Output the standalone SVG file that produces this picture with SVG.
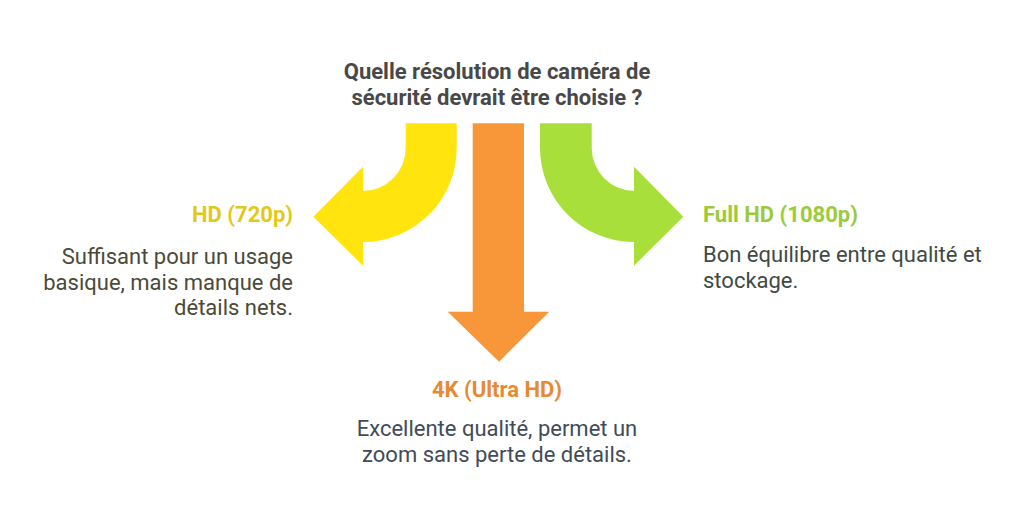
<svg xmlns="http://www.w3.org/2000/svg" width="1024" height="527" viewBox="0 0 1024 527">
<style>
text{font-family:Roboto,"Liberation Sans",sans-serif;}
.t{font-size:22px;font-weight:bold;fill:#484848;text-anchor:middle;}
.h{font-size:22px;font-weight:bold;}
.b{font-size:22px;}
</style>
<rect width="1024" height="527" fill="#ffffff"/>
<g id="connectors">
<path id="arrow-hd" fill="#FFE40D" d="M405.7,123.3 H456.7 V148 A94,94 0 0 1 363,242 V265.7 L313.3,216.7 L363,166.7 V191 A43,43 0 0 0 405.7,148 Z"/>
<path id="arrow-4k" fill="#F8973A" d="M472.7,123.3 H524 V311.7 H549.3 L499,361.7 L447.7,311.7 H472.7 Z"/>
<path id="arrow-fhd" fill="#A9DF3A" d="M591.7,123.3 H540 V148 A94,94 0 0 0 634,242 V265.7 L683.3,216.7 L634,166.7 V191 A43,43 0 0 1 591.7,148 Z"/>
</g>
<g id="title">
<text class="t" x="497" y="79">Quelle résolution de caméra de</text>
<text class="t" x="497" y="105">sécurité devrait être choisie ?</text>
</g>
<g id="node-hd">
<text class="h" x="293" y="222" text-anchor="end" fill="#E0C91A">HD (720p)</text>
<text class="b" x="293" y="264" text-anchor="end" fill="#4B4A38">Suffisant pour un usage</text>
<text class="b" x="293" y="290" text-anchor="end" fill="#4B4A38">basique, mais manque de</text>
<text class="b" x="293" y="315" text-anchor="end" fill="#4B4A38">détails nets.</text>
</g>
<g id="node-fhd">
<text class="h" x="703" y="222" fill="#9BCB3A">Full HD (1080p)</text>
<text class="b" x="703" y="262" fill="#3F4A44">Bon équilibre entre qualité et</text>
<text class="b" x="703" y="288" fill="#3F4A44">stockage.</text>
</g>
<g id="node-4k">
<text class="h" x="497" y="397" text-anchor="middle" fill="#E88A30">4K (Ultra HD)</text>
<text class="b" x="497" y="436" text-anchor="middle" fill="#414B5A">Excellente qualité, permet un</text>
<text class="b" x="497" y="462" text-anchor="middle" fill="#414B5A">zoom sans perte de détails.</text>
</g>
</svg>
